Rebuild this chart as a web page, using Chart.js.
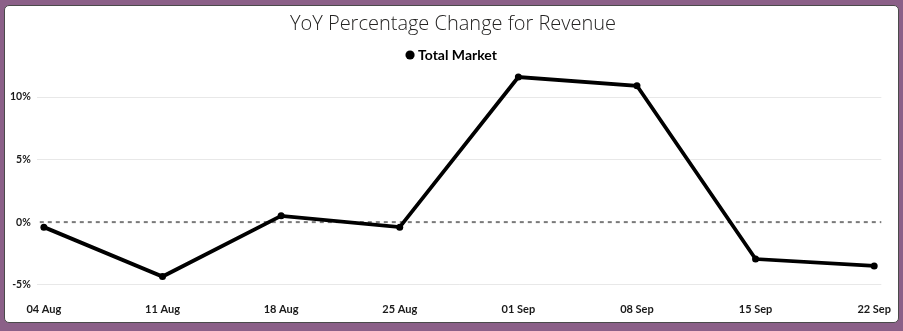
<!DOCTYPE html>
<html>
<head>
<meta charset="utf-8">
<script src="https://cdn.jsdelivr.net/npm/chart.js@4/dist/chart.umd.min.js"></script>
<style>
  html, body { margin: 0; padding: 0; width: 903px; height: 331px; background: #8b6088; overflow: hidden; }
  #panel { position: absolute; left: 4px; top: 5px; width: 893px; height: 316px; background: #ffffff; border: 1px solid #4a4a4a; border-radius: 5px; overflow: hidden; }
  #wrap { position: absolute; left: 0; top: 0; width: 893px; height: 316px; }
</style>
</head>
<body>
<div id="panel"><div id="wrap"><canvas id="c"></canvas></div></div>
<script>
const categories = ['04 Aug', '11 Aug', '18 Aug', '25 Aug', '01 Sep', '08 Sep', '15 Sep', '22 Sep'];
const totalMarket = [-0.4, -4.35, 0.5, -0.4, 11.6, 10.9, -2.95, -3.5];
const yTicks = [-5, 0, 5, 10];
const seriesName = 'Total Market';
const titleText = 'YoY Percentage Change for Revenue';

const points = totalMarket.map((v, i) => ({ x: i, y: v }));

const zeroLine = {
  id: 'zeroLine',
  beforeDatasetsDraw(chart) {
    const { ctx, chartArea, scales } = chart;
    const y = scales.y.getPixelForValue(0);
    ctx.save();
    ctx.strokeStyle = '#7a7a7a';
    ctx.lineWidth = 2;
    ctx.setLineDash([4, 4]);
    ctx.beginPath();
    ctx.moveTo(chartArea.left + 3, y);
    ctx.lineTo(chartArea.right, y);
    ctx.stroke();
    ctx.restore();
  }
};

const xTickFont = { family: "'Lato', 'Segoe UI', sans-serif", size: 11, weight: 'bold' };
const yTickFont = { family: "'Lato', 'Segoe UI', sans-serif", size: 10.5, weight: 'bold' };

new Chart(document.getElementById('c'), {
  type: 'line',
  data: {
    datasets: [{
      label: seriesName,
      data: points,
      borderColor: '#000000',
      backgroundColor: '#000000',
      borderWidth: 3.8,
      pointRadius: 3.5,
      pointHoverRadius: 3.5,
      pointBackgroundColor: '#000000',
      pointBorderWidth: 0,
      tension: 0
    }]
  },
  options: {
    responsive: true,
    maintainAspectRatio: false,
    animation: false,
    layout: { padding: { left: -1, right: -4, top: 6, bottom: -1 } },
    plugins: {
      title: {
        display: true,
        text: titleText,
        color: '#252423',
        font: { family: "'Segoe UI Light', 'Open Sans', 'Lato', sans-serif", size: 20, weight: 300 },
        padding: { top: 0, bottom: 4 }
      },
      legend: {
        display: true,
        labels: {
          usePointStyle: true,
          pointStyle: 'circle',
          boxWidth: 2,
          boxHeight: 6.5,
          color: '#000000',
          font: { family: "'Lato', 'Segoe UI', sans-serif", size: 14, weight: 'bold' },
          padding: 8
        }
      },
      tooltip: { enabled: false }
    },
    scales: {
      x: {
        type: 'linear',
        min: -0.06,
        max: categories.length - 1 + 0.06,
        afterBuildTicks: (axis) => { axis.ticks = categories.map((c, i) => ({ value: i })); },
        ticks: {
          callback: (v) => categories[v],
          color: '#1a1a1a',
          font: xTickFont,
          maxRotation: 0,
          autoSkip: false,
          padding: 7
        },
        grid: { display: false },
        border: { display: false }
      },
      y: {
        min: -5.25,
        max: 12.0,
        afterBuildTicks: (axis) => { axis.ticks = yTicks.map(v => ({ value: v })); },
        ticks: {
          callback: (v) => v + '%',
          color: '#1a1a1a',
          font: yTickFont,
          padding: 6
        },
        grid: {
          color: (ctx) => ctx.tick && ctx.tick.value === 0 ? 'rgba(0,0,0,0)' : '#e8e8e8',
          lineWidth: 1,
          drawTicks: false
        },
        border: { display: false }
      }
    }
  },
  plugins: [zeroLine]
});
</script>
</body>
</html>
